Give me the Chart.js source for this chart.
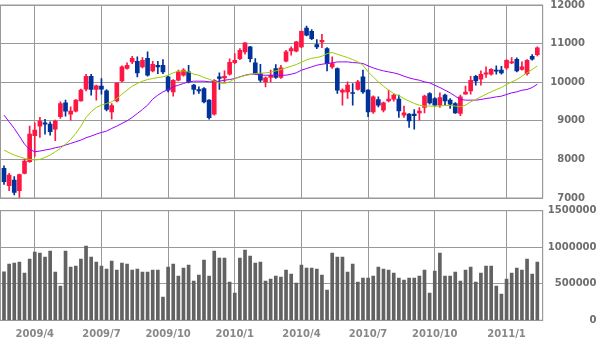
<!DOCTYPE html>
<html>
<head>
<meta charset="utf-8">
<script src="https://cdn.jsdelivr.net/npm/chart.js@4"></script>
<style>
body{margin:0;background:#fff;}
canvas{display:block;}
</style>
</head>
<body>
<canvas id="price" width="600" height="204"></canvas>
<canvas id="volume" width="600" height="136"></canvas>
<script>
// weekly candles, 2009/2 - 2011/2
const opens=[7767,7319,7466,7190,7638,7940,8612,8862,8949,8914,
8785,9104,9466,9173,9250,9518,9819,10155,9810,9897,
9776,9233,9518,10035,10354,10526,10543,10397,10621,10293,
10440,10440,10138,9750,10051,10181,10267,9923,9810,9837,
9535,9173,10138,10112,10207,10509,10612,10785,10914,10500,
10224,10009,10121,10354,10121,10543,10811,10802,10914,11405,
11319,10974,11043,10871,10397,10354,9742,9750,9733,9810,
10138,9793,9233,9552,9276,9518,9561,9561,9147,9173,
9173,9207,9345,9707,9578,9405,9664,9535,9449,9190,
9690,9776,10155,10078,10207,10207,10311,10311,10371,10500,
10595,10328,10224,10673,10716];
const highs=[7836,7638,7552,7621,8000,8862,8950,9087,9035,8974,
9017,9492,9535,9362,9552,9819,10207,10207,9923,10095,
9810,9449,9992,10423,10500,10673,10655,10638,10785,10543,
10543,10586,10155,10069,10311,10354,10440,9948,9880,9862,
9552,10069,10242,10293,10604,10742,10871,11026,10931,10612,
10466,10138,10311,10457,10440,10828,10914,11061,11328,11457,
11362,11104,11242,10897,10655,10371,9830,10009,9966,10051,
10311,9810,9647,9621,9483,9793,9690,9664,9380,9190,
9293,9345,9664,9733,9604,9724,9690,9578,9474,9664,
9897,10155,10181,10293,10397,10354,10423,10414,10586,10638,
10630,10526,10586,10716,10914];
const lows=[7354,7190,7078,7018,7621,7922,8080,8569,8655,8630,
8483,9061,9121,9017,9233,9509,9776,9664,9535,9690,
9259,9043,9492,10009,10336,10483,10138,10371,10155,10267,
10224,10224,9750,9638,10035,10155,9983,9690,9707,9466,
9043,9147,9810,10009,10181,10483,10586,10724,10526,10207,
10009,9880,10009,10095,10095,10526,10699,10785,10897,11199,
11104,10871,10897,10293,10354,9707,9405,9578,9405,9793,
9707,9104,9190,9362,9233,9492,9509,9087,9087,8828,
8785,9017,9207,9431,9380,9345,9405,9319,9190,9130,
9690,9690,9923,9923,10121,10181,10207,10207,10328,10483,
10267,10311,10181,10569,10681];
const closes=[7423,7595,7147,7604,7957,8655,8759,8992,8914,8716,
8992,9449,9250,9250,9535,9793,10155,9810,9905,9819,
9293,9397,9974,10397,10440,10621,10242,10569,10181,10466,
10397,10267,9793,10051,10267,10311,10009,9810,9776,9492,
9078,10051,10095,10155,10518,10569,10828,11018,10612,10224,
10051,10112,10181,10121,10371,10785,10871,11043,11319,11216,
11130,10914,11086,10483,10483,9793,9793,9923,9707,10009,
9750,9233,9621,9405,9466,9561,9664,9259,9207,9000,
9130,9250,9638,9466,9405,9604,9518,9431,9207,9621,
9742,10051,10035,10207,10242,10336,10285,10242,10569,10526,
10293,10397,10569,10595,10888];
const ma13=[8242,8172,8112,8069,8026,8000,7983,8000,8052,8112,
8198,8285,8397,8517,8673,8862,9087,9233,9345,9405,
9449,9492,9578,9690,9793,9897,9966,10026,10069,10095,
10121,10138,10181,10242,10285,10293,10267,10207,10181,10121,
10078,10026,9983,9966,10009,10095,10138,10173,10198,10224,
10233,10242,10259,10293,10328,10371,10414,10457,10518,10578,
10621,10638,10673,10742,10768,10724,10681,10638,10586,10526,
10440,10267,10138,10009,9897,9793,9707,9647,9578,9509,
9449,9405,9380,9380,9380,9380,9397,9397,9380,9362,
9405,9492,9552,9621,9690,9750,9810,9862,9940,10009,
10069,10155,10242,10328,10423];
const ma26=[9147,8974,8802,8604,8397,8259,8198,8216,8242,8267,
8302,8328,8371,8414,8457,8500,8561,8604,8655,8698,
8733,8802,8862,8931,9000,9087,9190,9293,9405,9561,
9664,9750,9810,9880,9923,9966,10009,10026,10026,10026,
10009,10009,10026,10051,10069,10095,10138,10181,10207,10207,
10181,10181,10181,10181,10181,10181,10207,10242,10311,10354,
10397,10440,10466,10483,10500,10526,10526,10526,10509,10500,
10483,10423,10371,10328,10293,10267,10242,10207,10155,10112,
10078,10051,10009,9983,9923,9862,9793,9724,9638,9552,
9535,9535,9535,9552,9578,9595,9621,9638,9681,9724,
9750,9793,9810,9862,9948];
const volumes=[665000,770000,784000,798000,647000,839000,934000,921000,866000,948000,
661000,470000,948000,729000,743000,839000,1016000,866000,798000,743000,
702000,811000,688000,784000,770000,688000,702000,661000,661000,688000,
688000,319000,729000,770000,606000,716000,757000,538000,620000,825000,
606000,948000,852000,852000,524000,374000,852000,962000,880000,784000,
798000,538000,565000,606000,593000,688000,634000,511000,757000,716000,
716000,702000,620000,415000,921000,866000,866000,661000,770000,524000,
579000,579000,606000,729000,702000,688000,647000,579000,552000,579000,
579000,606000,688000,374000,675000,921000,606000,606000,661000,538000,
688000,729000,524000,647000,743000,743000,470000,360000,565000,647000,
716000,688000,839000,634000,798000];
const tickWeeks=[7,20,33,46,59,72,85,99];
const tickLabels=['2009/4','2009/7','2009/10','2010/1','2010/4','2010/7','2010/10','2011/1'];

const RED='#ff1744', BLUE='#003399', GRID='#999999';
const weekNo=opens.map((_, i) => i + 1);
const candleColors=closes.map((c, i) => c >= opens[i] ? RED : BLUE);
const FONT={family:'DejaVu Sans', weight:'bold', size:10, lineHeight:1};

const frame={
  id:'frame',
  beforeDatasetsDraw(chart){
    const {ctx, chartArea:a}=chart;
    ctx.save();
    ctx.strokeStyle=GRID;
    ctx.lineWidth=1;
    ctx.strokeRect(a.left+0.5, a.top, a.right-a.left-0.5, a.bottom-a.top);
    ctx.restore();
  }
};

function xScale(showLabels){
  return {
    type:'linear', min:0.22, max:106.05, offset:false,
    grid:{color:GRID, drawTicks:false, offset:false},
    border:{display:false},
    afterBuildTicks: s => { s.ticks = tickWeeks.map(v => ({value:v})); },
    afterFit: s => { if (showLabels) s.height = 19; },
    ticks:{
      display:showLabels, autoSkip:false, maxRotation:0, padding:9,
      color:'#888', font:FONT,
      callback: v => tickLabels[tickWeeks.indexOf(v)]
    }
  };
}

function yScale(min, max, step, width){
  return {
    position:'right', min:min, max:max,
    grid:{color:GRID, drawTicks:false},
    border:{color:GRID},
    ticks:{stepSize:step, crossAlign:'far', padding:0, color:'#6e6e6e', font:FONT, callback: v => String(v)},
    afterFit: s => { s.width = width; }
  };
}

new Chart(document.getElementById('price'), {
  type:'bar',
  data:{
    datasets:[
      {type:'line', data:weekNo.map((w, i) => ({x:w, y:ma13[i]})), borderColor:'#99cc00', borderWidth:1, pointRadius:0, tension:0, order:0},
      {type:'line', data:weekNo.map((w, i) => ({x:w, y:ma26[i]})), borderColor:'#9900ff', borderWidth:1, pointRadius:0, tension:0, order:0},
      {data:weekNo.map((w, i) => ({x:w, y:[opens[i], closes[i]]})), backgroundColor:candleColors, barThickness:4, minBarLength:1, grouped:false, order:1},
      {data:weekNo.map((w, i) => ({x:w, y:[lows[i], highs[i]]})), backgroundColor:candleColors, barThickness:1, grouped:false, order:2}
    ]
  },
  options:{
    responsive:false, animation:false, devicePixelRatio:1,
    layout:{padding:{top:4, left:0, right:15, bottom:6}},
    plugins:{legend:{display:false}, tooltip:{enabled:false}},
    scales:{
      x:xScale(false),
      y:yScale(7000, 12000, 1000, 42.3)
    }
  },
  plugins:[frame]
});

new Chart(document.getElementById('volume'), {
  type:'bar',
  data:{
    datasets:[
      {data:weekNo.map((w, i) => ({x:w, y:volumes[i]})), backgroundColor:'#626262', barThickness:3, grouped:false}
    ]
  },
  options:{
    responsive:false, animation:false, devicePixelRatio:1,
    layout:{padding:{top:6.7, left:0, right:3.5, bottom:0.7}},
    plugins:{legend:{display:false}, tooltip:{enabled:false}},
    scales:{
      x:xScale(true),
      y:yScale(0, 1500000, 500000, 53.8)
    }
  },
  plugins:[frame]
});
</script>
</body>
</html>
